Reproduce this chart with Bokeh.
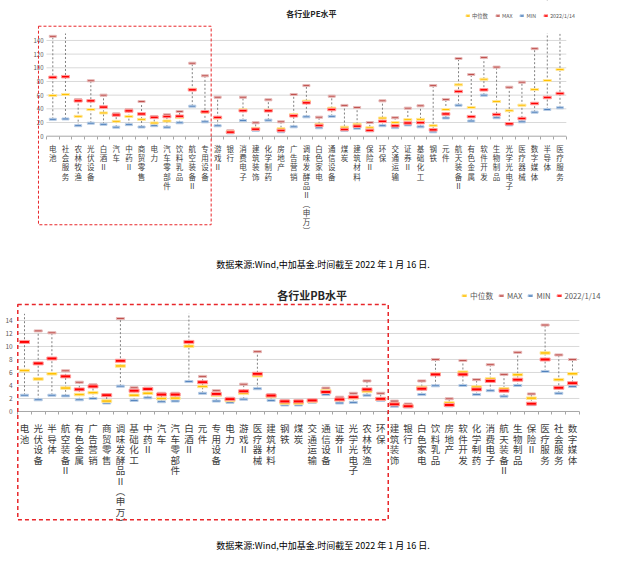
from bokeh.plotting import figure
from bokeh.models import (Range1d, FixedTicker, BoxAnnotation, Label, Legend,
                          LegendItem, ColumnDataSource)
from bokeh.layouts import column
from bokeh.embed import file_html
from bokeh.resources import INLINE

FONT = "Noto Sans CJK SC"

# ---------------- PE data ----------------
pe_categories = ["电池", "社会服务", "农林牧渔", "光伏设备", "白酒Ⅱ", "汽车", "中药Ⅱ", "商贸零售",
                 "电力", "汽车零部件", "饮料乳品", "航空装备Ⅱ", "专用设备", "游戏Ⅱ", "银行",
                 "消费电子", "建筑装饰", "化学制药", "房地产", "广告营销", "调味发酵品Ⅱ(申万)",
                 "白色家电", "通信设备", "煤炭", "建筑材料", "保险Ⅱ", "环保", "交通运输", "证券Ⅱ",
                 "基础化工", "钢铁", "元件", "航天装备Ⅱ", "有色金属", "软件开发", "生物制品",
                 "光学光电子", "医疗器械", "数字媒体", "半导体", "医疗服务"]
pe_max = [146, 215, 53.5, 81, 60, 32.7, 39, 50.7, 28.8, 31.3, 36.1, 106.7, 88.3, 57, 8,
          57, 19.6, 53.2, 21, 61, 74, 27.8, 58.5, 45, 42, 20, 51.7, 27, 41,
          44.4, 74, 53.7, 113.6, 90.2, 115, 101, 71.6, 79, 128, 230, 240]
pe_median = [59.5, 61, 29, 39, 34, 21.7, 28.8, 24.6, 19.3, 22.2, 27.5, 68.8, 35, 26.5, 6.5,
             38.5, 11.5, 38, 10.8, 31.7, 51.2, 17.5, 41, 13.2, 17.5, 12.3, 26.5, 20, 24.2,
             24.6, 15.4, 39, 75.1, 42, 83.3, 50.7, 37.3, 45.3, 68.3, 81.4, 97.5]
pe_min = [24.7, 25.2, 15.4, 19, 17.3, 13.2, 16.9, 13.4, 15.4, 13.2, 19.6, 43.9, 21, 15.2, 4.8,
          23, 8.5, 23.4, 6.5, 13.7, 28.3, 12.3, 29, 8.3, 11.7, 7.8, 15.4, 12.5, 16.5,
          13.7, 6.4, 26.6, 45.3, 22.2, 60, 27, 16.5, 21, 35.1, 39, 41.5]
pe_current = [86, 87, 51.7, 51.7, 42.5, 31, 37, 32.5, 27.5, 28.7, 29.2, 67.8, 35.7, 27.5, 5.9,
              37.3, 10.2, 37.1, 8.3, 29.8, 48.8, 15.6, 39, 9.8, 14.6, 8.5, 21.7, 15.2, 19.3,
              19.8, 9.3, 32.5, 65.4, 28.6, 67.8, 31.7, 18.1, 25.9, 47.8, 56.6, 62.4]
pe_ticks = [0, 20, 40, 60, 80, 100, 120, 140]

# ---------------- PB data ----------------
pb_categories = ["电池", "光伏设备", "半导体", "航空装备Ⅱ", "有色金属", "广告营销", "商贸零售",
                 "调味发酵品Ⅱ(申万)", "基础化工", "中药Ⅱ", "汽车", "汽车零部件", "白酒Ⅱ", "元件",
                 "专用设备", "电力", "游戏Ⅱ", "医疗器械", "建筑材料", "钢铁", "煤炭", "交通运输",
                 "通信设备", "证券Ⅱ", "光学光电子", "农林牧渔", "环保", "建筑装饰", "银行",
                 "白色家电", "饮料乳品", "房地产", "软件开发", "化学制药", "消费电子",
                 "航天装备Ⅱ", "生物制品", "保险Ⅱ", "医疗服务", "社会服务", "数字媒体"]
pb_max = [22, 12.4, 12.1, 6.25, 4.5, 4.1, 2.6, 14.3, 3.65, 3.6, 2.8, 2.8, 18, 5.4,
          3.2, 2.05, 4.2, 9.2, 2.6, 1.7, 1.7, 1.8, 3.6, 2.2, 2.8, 4.7, 2.8, 1.6, 1.15,
          4.7, 8.0, 1.95, 7.85, 4.9, 7.2, 5.7, 9.1, 2.7, 13.3, 8.7, 8.0]
pb_median = [6.3, 5.0, 5.8, 3.6, 2.6, 2.9, 1.6, 7.0, 2.5, 2.8, 2.0, 2.05, 10.05, 3.85,
             2.5, 1.7, 2.8, 5.5, 2.3, 1.3, 1.3, 1.55, 3.2, 1.8, 2.1, 3.1, 1.9, 1.15, 0.85,
             3.7, 5.8, 1.3, 6.05, 3.75, 5.0, 3.5, 5.65, 2.05, 9.0, 4.9, 5.8]
pb_min = [2.5, 1.8, 2.5, 2.4, 1.8, 2.0, 1.3, 3.9, 1.7, 2.1, 1.5, 1.6, 4.6, 2.8,
          1.6, 1.4, 1.9, 3.5, 1.7, 1.0, 1.0, 1.4, 2.6, 1.3, 1.4, 2.5, 1.7, 0.8, 0.7,
          2.6, 3.95, 0.85, 4.0, 2.6, 3.2, 2.35, 4.0, 1.05, 6.15, 2.8, 3.85]
pb_current = [10.7, 7.4, 8.15, 5.4, 3.4, 3.85, 2.5, 7.8, 3.2, 3.45, 2.6, 2.6, 10.7, 4.5,
              2.7, 1.9, 3.1, 5.8, 2.45, 1.55, 1.55, 1.7, 3.0, 1.85, 2.2, 3.4, 1.95, 1.1, 0.8,
              3.5, 5.7, 1.0, 5.7, 3.4, 4.7, 3.2, 4.9, 1.2, 8.0, 3.65, 4.35]
pb_ticks = [0, 2, 4, 6, 8, 10, 12, 14]

legend_labels = ["中位数", "MAX", "MIN", "2022/1/14"]
pe_title = "各行业PE水平"
pb_title = "各行业PB水平"
caption_text = "数据来源:Wind,中加基金.时间截至 2022 年 1 月 16 日."

C_MAX, C_MAX_L = "#C0504D", "#E6B9B8"
C_MIN, C_MIN_L = "#4F81BD", "#B9CDE5"
C_MED, C_MED_L = "#FFC000", "#FFE699"
C_CUR, C_CUR_L = "#FF0000", "#FF9C9C"


def vertical(s):
    s = s.replace("(", "︵").replace(")", "︶")
    return "\n".join(s)


def build(cats, mx, med, mn, cur, ticks, title_text, c):
    n = len(cats)
    idx = list(range(n))
    p = figure(width=632, height=c["height"], x_range=Range1d(*c["xr"]),
               y_range=Range1d(*c["yr"]), min_border=0, toolbar_location=None,
               output_backend="svg")
    p.outline_line_color = None
    p.xgrid.visible = False
    p.ygrid.visible = False

    gy = ticks[1:]
    p.segment(x0=[-0.5] * len(gy), y0=gy, x1=[n - 0.5] * len(gy), y1=gy,
              line_color="#D9D9D9", line_width=1)
    p.segment(x0=[-0.5], y0=[ticks[0]], x1=[n - 0.5], y1=[ticks[0]],
              line_color="#A6A6A6", line_width=1)

    src = ColumnDataSource(dict(x=idx, mx=mx, med=med, mn=mn, cur=cur))
    p.segment("x", "mn", "x", "mx", source=src, line_color="#808080",
              line_dash="2 2", line_width=1)
    kw = dict(source=src, width_units="screen", height_units="screen", line_width=1)
    r_min = p.rect("x", "mn", width=c["m_small"][0], height=c["m_small"][1],
                   fill_color=C_MIN, line_color=C_MIN_L, **kw)
    r_max = p.rect("x", "mx", width=c["m_small"][0], height=c["m_small"][1],
                   fill_color=C_MAX, line_color=C_MAX_L, **kw)
    r_med = p.rect("x", "med", width=c["m_med"][0], height=c["m_med"][1],
                   fill_color=C_MED, line_color=C_MED_L, **kw)
    r_cur = p.rect("x", "cur", width=c["m_cur"][0], height=c["m_cur"][1],
                   fill_color=C_CUR, line_color=C_CUR_L, **kw)

    xa = p.xaxis[0]
    xa.fixed_location = ticks[0]
    xa.ticker = FixedTicker(ticks=idx, minor_ticks=[i - 0.5 for i in range(n + 1)])
    xa.major_label_overrides = {i: vertical(cats[i]) for i in idx}
    xa.axis_line_color = None
    xa.major_tick_line_color = None
    xa.major_tick_in = 0
    xa.major_tick_out = 0
    xa.minor_tick_line_color = "#A6A6A6"
    xa.minor_tick_in = 0
    xa.minor_tick_out = 3
    xa.major_label_standoff = c["xstand"]
    xa.major_label_text_font = FONT
    xa.major_label_text_font_size = c["xfont"]
    xa.major_label_text_color = "#404040"
    xa.major_label_text_line_height = c["xlh"]

    ya = p.yaxis[0]
    ya.fixed_location = -0.5
    ya.ticker = FixedTicker(ticks=ticks, minor_ticks=[])
    ya.axis_line_color = None
    ya.major_tick_line_color = None
    ya.minor_tick_line_color = None
    ya.major_tick_in = 0
    ya.major_tick_out = 0
    ya.major_label_standoff = c["ystand"]
    ya.major_label_text_font = FONT
    ya.major_label_text_font_size = c["yfont"]
    ya.major_label_text_color = "#595959"

    # plot-area clip above the value axis top
    p.add_layout(BoxAnnotation(bottom=c["clip"], fill_color="white", fill_alpha=1,
                               line_alpha=0, level="annotation"))
    bl, br, bb, bt = c["box"]
    p.add_layout(BoxAnnotation(left=bl, right=br, bottom=bb, top=bt, fill_alpha=0,
                               line_color="#E8262A", line_alpha=1, line_width=c["box_w"],
                               line_dash=c["box_dash"], level="overlay"))

    tx, ty = c["title_pos"]
    p.add_layout(Label(x=tx, y=ty, text=title_text, text_font=FONT,
                       text_font_size=c["title_size"], text_font_style="bold",
                       text_color="#262626", text_align="center",
                       text_baseline="middle", level="overlay"))
    cx, cy = c["cap_pos"]
    p.add_layout(Label(x=cx, y=cy, text=caption_text, text_font=FONT,
                       text_font_size="9px", text_color="#000000", text_align="center",
                       text_baseline="middle", level="overlay"))

    legend = Legend(items=[LegendItem(label=legend_labels[0], renderers=[r_med]),
                           LegendItem(label=legend_labels[1], renderers=[r_max]),
                           LegendItem(label=legend_labels[2], renderers=[r_min]),
                           LegendItem(label=legend_labels[3], renderers=[r_cur])],
                    orientation="horizontal", location=c["leg_loc"], padding=0,
                    margin=0, spacing=c["leg_spacing"], label_standoff=c["leg_standoff"],
                    glyph_width=c["leg_glyph"][0], glyph_height=c["leg_glyph"][1],
                    label_height=c["leg_glyph"][1], label_width=0,
                    label_text_font=FONT, label_text_font_size=c["leg_font"],
                    label_text_color="#595959", background_fill_alpha=0,
                    border_line_color=None, level="overlay")
    p.add_layout(legend)
    return p


pe_cfg = dict(height=280, xr=(-4.125, 45.72), yr=(-211.0, 198.4), clip=150,
              box=(-1.13, 12.49, -129.5, 160.8), box_w=1, box_dash="3 2",
              title_pos=(20.4, 179.4), title_size="8px", cap_pos=(21.31, -187.6),
              leg_loc=(465, 260.3), leg_font="5.3px", leg_glyph=(5, 3), leg_spacing=7,
              leg_standoff=2, xfont="7.5px", xlh=0.83, xstand=4, yfont="6px", ystand=3,
              m_small=(7, 2), m_med=(8, 2), m_cur=(8, 2.5))
pb_cfg = dict(height=273, xr=(-1.752, 44.38), yr=(-21.85, 20.15), clip=15.03,
              box=(-0.49, 26.55, -16.66, 16.46), box_w=1.5, box_dash="4 3",
              title_pos=(20.99, 17.85), title_size="11px", cap_pos=(21.79, -20.6),
              leg_loc=(461, 251.6), leg_font="7.7px", leg_glyph=(6, 3), leg_spacing=5,
              leg_standoff=3, xfont="9.5px", xlh=0.745, xstand=7, yfont="6.5px", ystand=5,
              m_small=(8, 2), m_med=(10, 2.5), m_cur=(10, 3))

p1 = build(pe_categories, pe_max, pe_median, pe_min, pe_current, pe_ticks, pe_title, pe_cfg)
p2 = build(pb_categories, pb_max, pb_median, pb_min, pb_current, pb_ticks, pb_title, pb_cfg)

layout = column(p1, p2, spacing=0)
open("out.html", "w").write(file_html(layout, INLINE))
